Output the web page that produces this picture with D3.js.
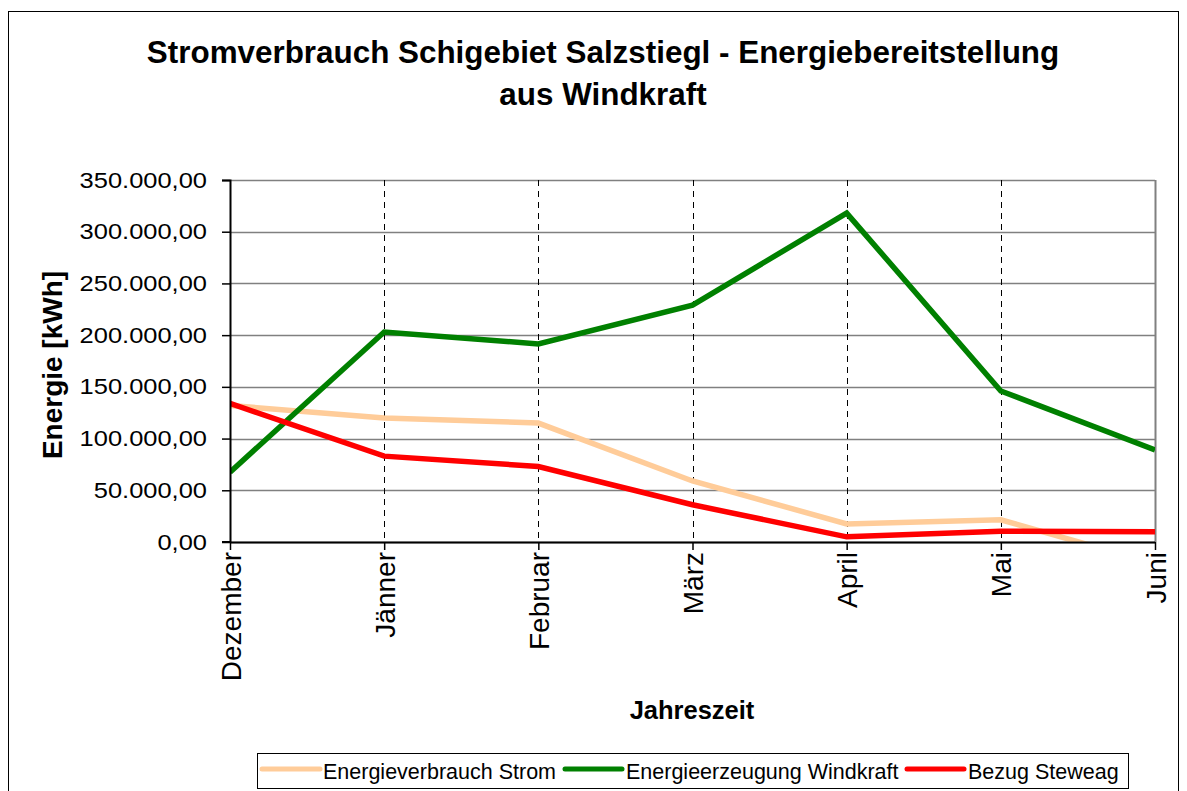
<!DOCTYPE html>
<html>
<head>
<meta charset="utf-8">
<script src="https://cdn.jsdelivr.net/npm/d3@7"></script>
<style>
  body { margin: 0; background: #fff; }
  svg { font-family: Arial, "Liberation Sans", sans-serif; }
</style>
</head>
<body>
<svg id="chart" width="1187" height="791"></svg>
<script>
// data
const months = ['Dezember', 'Jänner', 'Februar', 'März', 'April', 'Mai', 'Juni'];
const verbrauch = [132000, 120000, 115000, 59000, 17500, 21500, -21000];
const windkraft = [67500, 203000, 191500, 229000, 318000, 146000, 89000];
const steweag = [134000, 83000, 73000, 36000, 5000, 10500, 10000];
const yTicks = [0, 50000, 100000, 150000, 200000, 250000, 300000, 350000];

const series = [
  { name: 'Energieverbrauch Strom', values: verbrauch, color: '#ffcc99' },
  { name: 'Energieerzeugung Windkraft', values: windkraft, color: '#008000' },
  { name: 'Bezug Steweag', values: steweag, color: '#ff0000' },
];

const svg = d3.select('#chart');
const margin = { top: 180, right: 32, bottom: 249, left: 230 };
const width = 1187 - margin.left - margin.right;
const height = 791 - margin.top - margin.bottom;

// outer chart frame
svg.append('rect')
  .attr('x', 8.5).attr('y', 11.5)
  .attr('width', 1170).attr('height', 800)
  .attr('fill', 'none').attr('stroke', '#000').attr('stroke-width', 1);

// title
const title = svg.append('text')
  .attr('text-anchor', 'middle')
  .attr('font-size', 31.4).attr('font-weight', 'bold');
title.append('tspan').attr('x', 603).attr('y', 63).text('Stromverbrauch Schigebiet Salzstiegl - Energiebereitstellung');
title.append('tspan').attr('x', 603).attr('y', 105).text('aus Windkraft');

const x = d3.scalePoint().domain(months).range([0, width]);
const y = d3.scaleLinear().domain([0, 350000]).range([height, 0]);

const g = svg.append('g')
  .attr('transform', `translate(${margin.left},${margin.top})`);

// horizontal gridlines
g.append('g')
  .selectAll('line')
  .data(yTicks)
  .join('line')
  .attr('x1', 0).attr('x2', width)
  .attr('y1', d => Math.round(y(d)) + 0.5).attr('y2', d => Math.round(y(d)) + 0.5)
  .attr('stroke', '#808080').attr('stroke-width', 1.5);

// vertical dashed gridlines
g.append('g')
  .selectAll('line')
  .data(months.slice(1, -1))
  .join('line')
  .attr('x1', d => Math.round(x(d)) + 0.5).attr('x2', d => Math.round(x(d)) + 0.5)
  .attr('y1', 0).attr('y2', height)
  .attr('stroke', '#000').attr('stroke-width', 1)
  .attr('stroke-dasharray', '6,5');

// right border
g.append('line')
  .attr('x1', width + 0.5).attr('x2', width + 0.5)
  .attr('y1', 0).attr('y2', height)
  .attr('stroke', '#808080').attr('stroke-width', 2);

// lines, clipped to the plot area
g.append('clipPath').attr('id', 'plotclip')
  .append('rect').attr('x', 0).attr('y', 0).attr('width', width).attr('height', height);

const line = d3.line()
  .x((d, i) => x(months[i]))
  .y(d => y(d));

g.append('g').attr('clip-path', 'url(#plotclip)')
  .selectAll('path')
  .data(series)
  .join('path')
  .attr('fill', 'none')
  .attr('stroke', d => d.color)
  .attr('stroke-width', 5.5)
  .attr('stroke-linejoin', 'miter')
  .attr('d', d => line(d.values));

// y axis
const fmt = d => d3.format(',.2f')(d).replace(/,/g, 'X').replace('.', ',').replace(/X/g, '.');
const yAxis = g.append('g')
  .call(d3.axisLeft(y).tickValues(yTicks).tickSize(8).tickPadding(15).tickFormat(fmt));
yAxis.select('.domain').attr('stroke', '#000').attr('stroke-width', 2).attr('d', `M-8,0.5H0.5V${height}H-8`);
yAxis.selectAll('.tick line').attr('stroke', '#000').attr('stroke-width', 1.5);
yAxis.selectAll('.tick text').attr('font-size', 22).attr('fill', '#000')
  .attr('font-family', 'Arial, "Liberation Sans", sans-serif')
  .each(function () {
    // the reference labels are a bit wider than plain Arial
    const w = this.getComputedTextLength();
    d3.select(this).attr('textLength', w * 1.157).attr('lengthAdjust', 'spacingAndGlyphs');
  });

// x axis
const xAxis = g.append('g')
  .attr('transform', `translate(0,${height})`)
  .call(d3.axisBottom(x).tickSize(8).tickSizeOuter(0));
xAxis.select('.domain').attr('stroke', '#000').attr('stroke-width', 2).attr('d', `M0,0.5H${width}`);
xAxis.selectAll('.tick line').attr('stroke', '#000').attr('stroke-width', 1.5);
xAxis.selectAll('.tick text')
  .attr('font-size', 28).attr('fill', '#000')
  .attr('font-family', 'Arial, "Liberation Sans", sans-serif')
  .attr('text-anchor', 'end')
  .attr('transform', 'translate(10,10) rotate(-90)')
  .attr('x', 0).attr('y', 0).attr('dy', 0);

// axis titles
svg.append('text')
  .attr('transform', 'translate(62,365) rotate(-90)')
  .attr('text-anchor', 'middle')
  .attr('font-size', 28).attr('font-weight', 'bold')
  .text('Energie [kWh]');

svg.append('text')
  .attr('x', 692).attr('y', 719)
  .attr('text-anchor', 'middle')
  .attr('font-size', 25.5).attr('font-weight', 'bold')
  .text('Jahreszeit');

// legend
const legend = svg.append('g');
legend.append('rect')
  .attr('x', 257.5).attr('y', 753.5)
  .attr('width', 871).attr('height', 35)
  .attr('fill', '#fff').attr('stroke', '#000').attr('stroke-width', 1);

const legendX = [[262, 320, 323], [565, 622, 626], [907, 964, 968]];
series.forEach((s, i) => {
  legend.append('line')
    .attr('x1', legendX[i][0]).attr('x2', legendX[i][1])
    .attr('y1', 769).attr('y2', 769)
    .attr('stroke', s.color).attr('stroke-width', 5).attr('stroke-linecap', 'round');
  legend.append('text')
    .attr('x', legendX[i][2]).attr('y', 779)
    .attr('font-size', 21.5)
    .text(s.name);
});
</script>
</body>
</html>
